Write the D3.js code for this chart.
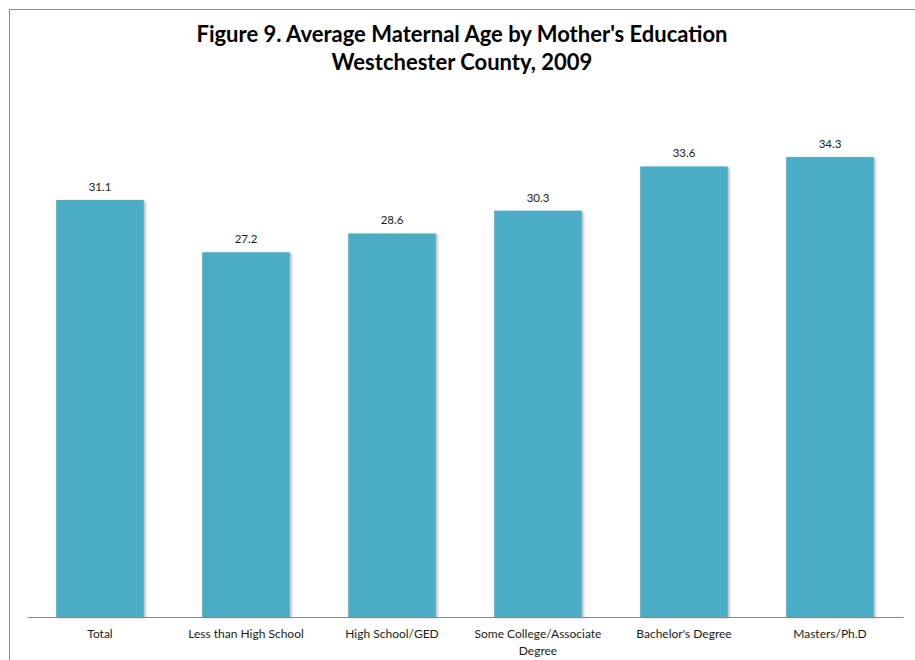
<!DOCTYPE html>
<html>
<head>
<meta charset="utf-8">
<script src="https://cdn.jsdelivr.net/npm/d3@7"></script>
<style>
  html, body { margin: 0; padding: 0; background: #fff; }
  svg { display: block; }
</style>
</head>
<body>
<script>
const categories = ["Total", "Less than High School", "High School/GED", "Some College/Associate Degree", "Bachelor's Degree", "Masters/Ph.D"];
const categoryLines = [["Total"], ["Less than  High School"], ["High School/GED"], ["Some College/Associate", "Degree"], ["Bachelor's Degree"], ["Masters/Ph.D"]];
const values = [31.1, 27.2, 28.6, 30.3, 33.6, 34.3];
const titleLines = ["Figure 9. Average Maternal Age by Mother's Education", "Westchester County, 2009"];

const W = 915, H = 660;
const svg = d3.select("body").append("svg").attr("width", W).attr("height", H);
const font = "Lato, 'Open Sans', sans-serif";

// outer frame
svg.append("rect").attr("x", 9.5).attr("y", 9.5).attr("width", 910).attr("height", 700)
  .attr("fill", "#fff").attr("stroke", "#8c8c8c").attr("stroke-width", 1);

const x = d3.scaleBand().domain(categories).range([27, 903]).paddingInner(0.4).paddingOuter(0.2);
const y = d3.scaleLinear().domain([0, 46]).range([617, 617 - 46 * 13.41]);

const defs = svg.append("defs");
const f = defs.append("filter").attr("id", "sh").attr("x", "-10%").attr("y", "-10%").attr("width", "120%").attr("height", "120%");
f.append("feGaussianBlur").attr("in", "SourceAlpha").attr("stdDeviation", 1).attr("result", "b");
f.append("feOffset").attr("in", "b").attr("dx", 1.5).attr("dy", 1).attr("result", "o");
f.append("feComponentTransfer").attr("in", "o").attr("result", "o2")
  .append("feFuncA").attr("type", "linear").attr("slope", 0.25);
const m = f.append("feMerge");
m.append("feMergeNode").attr("in", "o2");
m.append("feMergeNode").attr("in", "SourceGraphic");

svg.append("g").selectAll("rect").data(values).join("rect")
  .attr("x", (d, i) => x(categories[i]))
  .attr("y", d => y(d))
  .attr("width", x.bandwidth())
  .attr("height", d => y(0) - y(d))
  .attr("fill", "#4bacc6")
  .attr("filter", "url(#sh)");

// axis line
const ax = svg.append("g").attr("transform", `translate(0,${y(0)})`)
  .call(d3.axisBottom(x).tickSize(0).tickFormat(""));
ax.select(".domain").attr("stroke", "#868686").attr("stroke-width", 1.2);

// value labels
svg.append("g").selectAll("text").data(values).join("text")
  .attr("x", (d, i) => x(categories[i]) + x.bandwidth() / 2)
  .attr("y", d => y(d) - 9)
  .attr("text-anchor", "middle")
  .attr("font-family", font).attr("font-size", 11.5).attr("fill", "#1a1a1a")
  .text(d => d.toFixed(1));

// category labels
const cl = svg.append("g").selectAll("text").data(categories).join("text")
  .attr("x", d => x(d) + x.bandwidth() / 2)
  .attr("y", 638)
  .attr("text-anchor", "middle")
  .attr("font-family", font).attr("font-size", 12).attr("fill", "#1a1a1a");
cl.each(function(d, i) {
  const t = d3.select(this);
  categoryLines[i].forEach((ln, j) => {
    t.append("tspan").attr("x", x(d) + x.bandwidth() / 2).attr("dy", j === 0 ? 0 : 17).text(ln);
  });
});

// title
svg.append("g").selectAll("text").data(titleLines).join("text")
  .attr("x", 462)
  .attr("y", (d, i) => 42 + i * 28)
  .attr("text-anchor", "middle")
  .attr("font-family", font).attr("font-weight", "bold").attr("font-size", 22).attr("fill", "#000")
  .text(d => d);
</script>
</body>
</html>
